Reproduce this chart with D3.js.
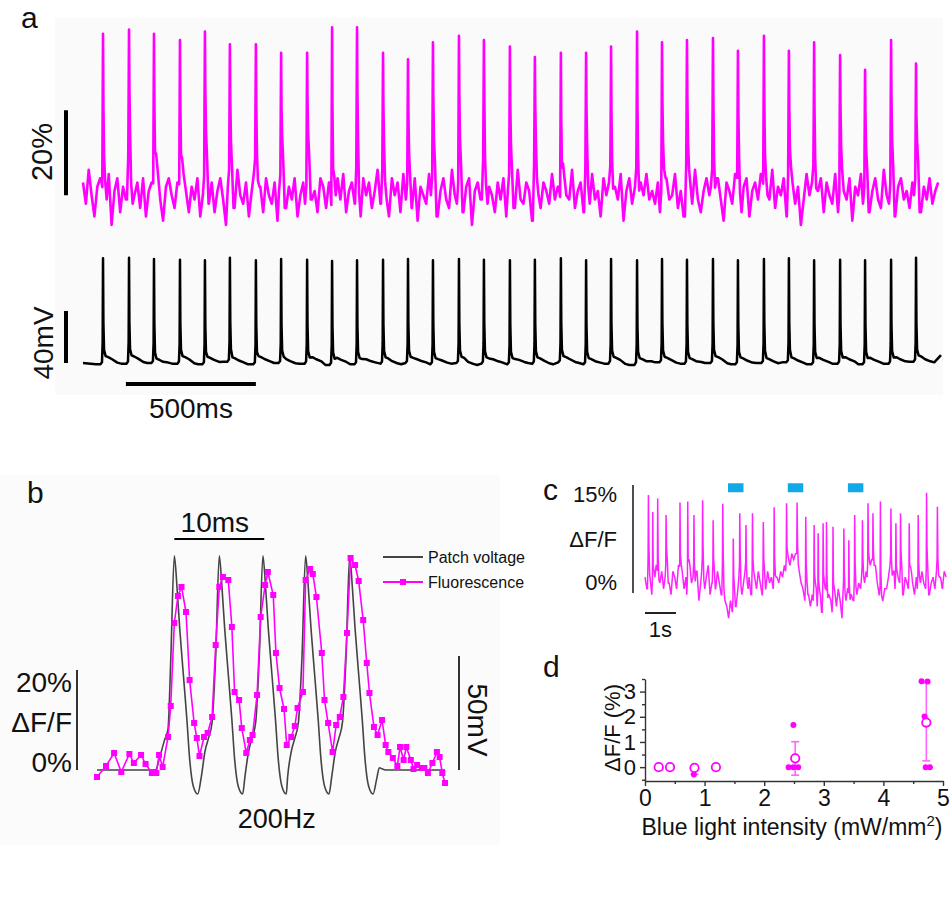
<!DOCTYPE html>
<html>
<head>
<meta charset="utf-8">
<script src="https://cdn.jsdelivr.net/npm/d3@7"></script>
<style>
  body { margin: 0; background: #fff; }
  text { font-family: "Liberation Sans", Arial, sans-serif; fill: #111; }
</style>
</head>
<body>
<div id="fig"></div>
<script>
// ---------- panel a : 10 Hz train, fluorescence vs membrane potential ----------
const aSpikeTimes = [77, 177, 273, 373, 469, 565, 665, 762, 862, 958, 1054, 1154, 1250, 1346, 1446, 1542,
  1642, 1738, 1838, 1935, 2031, 2131, 2227, 2323, 2423, 2519, 2619, 2715, 2812, 2912, 3008, 3108, 3204]; // ms
const aFluoPeaks = [37, 38, 37, 35.5, 37.5, 34.5, 34.5, 32.5, 32.5, 38.5, 38.5, 32.5, 31, 35, 36.5, 35.5,
  34, 31.5, 32.5, 32.5, 34, 37.5, 35, 35.5, 36, 33, 36.5, 33, 35, 32, 28.5, 35.5, 30]; // % dF/F
const aFluoStep = 11; // ms
const aFluoNoise = [
  2, -3, 5, -1, -6, 1, 3, -4, -2, 4, -8, 0, 3, -5, 1, -2, 4, -3, -1, 2,
  -4, 3, -6, 0, 2, -3, 5, -2, -7, 1, 3, -1, -4, 2, -3, 4, 0, -5, 1, -2,
  3, -6, -1, 4, -3, 2, -5, 0, 3, -2, -8, 1, 2, -4, 5, -1, -3, 2, -6, 0,
  4, -2, 1, -5, 3, -1, -3, 2, -7, 0, 4, -4, 1, -2, 3, -6, -1, 2, -3, 5,
  -2, 0, -5, 3, 1, -4, 2, -9, -1, 3, -2, 4, -5, 0, 2, -3, 1, -6, 3, -1,
  2, -4, 0, 5, -3, 1, -2, -6, 3, -1, 2, -5, 4, -2, 0, -4, 3, -7, 1, -1,
  -3, 4, -1, 2, -6, 0, 3, -2, -4, 5, -1, -3, 2, -5, 1, 3, -8, 0, 2, -2,
  4, -3, 1, -1, -5, 2, -2, 3, -6, 0, 1, -4, 5, -2, -3, 2, 0, -7, 3, -1,
  -4, 2, 0, -3, 4, -2, 1, -6, 3, -1, -2, 5, -4, 0, 2, -5, 1, -3, 4, -2,
  0, -6, 3, -1, 2, -4, 1, -2, 4, -7, 0, 3, -3, 1, -5, 2, -1, 4, -2, 0,
  -3, 2, -5, 1, 3, -2, -1, 4, -4, 0, -6, 2, 1, -3, 5, -2, -5, 0, 3, -1,
  1, -4, 3, -2, -7, 2, 0, -3, 4, -1, -5, 1, 3, -6, 0, 2, -2, 4, -3, -1,
  -2, 5, -4, 1, -1, 3, -6, 0, 2, -3, 1, -8, -2, 4, -1, 2, -4, 0, 3, -5,
  2, -1, -3, 4, -5, 1, 0, -2, 3, -7, 1, -1, 4, -3, 2, -5, 0, 3, -2, -4,
  5, -1, -3, 2, -6, 1, 3, -2, 0, -4, 2, -1, 4, -5, 1, -2, 3, -3, 0, 2];
const aFluoShape = [[-8, 0], [-3, 0.12], [-1.5, 0.55], [0, 1], [1.5, 0.6], [4, 0.3], [8, 0.12], [14, 0]];
const aVmStep = 50; // ms
const aVmNoise = [
  0, -1, 0.5, -0.5, 1, 0, -1.5, -0.5, 0.5, -1,
  0, 1, -0.5, -1, 0.5, 0, -1, -0.5, 0.5, -1.5,
  0, -1, 0.5, -0.5, -1, 0, 0.5, -1, -0.5, 0,
  -1.5, -0.5, 0.5, -1, 0, -0.5, -1, 0.5, 0, -1,
  -0.5, 0, -1.5, -1, 0.5, 0, -0.5, -1, 0, 0.5,
  -1, -0.5, 0, -1, 0.5, -0.5, -1, 0, -0.5, 0.5,
  -1, 0, -0.5, 0.5, 1, 0.5, 6];
const aVmRest = -65, aVmSpike = 80; // mV
const aVmShape = [[-10, 0], [-4, 0.02], [-1.5, 0.19], [0, 1], [1.5, 0.38], [4, 0.12], [10, 0.06], [20, 0.05], [35, 0.03], [55, 0.01], [70, 0]];

// ---------- panel b : 200 Hz burst ----------
const bFluoT = [0, 1.0, 1.9, 2.7, 3.6, 4.1, 4.9, 5.4, 6.1, 6.6, 6.9, 7.3, 7.9, 8.2, 8.6, 9.0, 9.4, 9.9, 10.3, 10.8,
  11.1, 11.4, 11.9, 12.3, 12.8, 13.2, 13.6, 14.0, 14.6, 15.0, 15.3, 15.8, 16.1, 16.6, 17.0, 17.3, 17.8, 18.2, 18.7, 19.0,
  19.6, 19.9, 20.3, 20.8, 21.1, 21.6, 22.0, 22.3, 22.9, 23.2, 23.7, 24.0, 24.4, 25.0, 25.3, 25.7, 26.2, 26.6, 27.0, 27.4,
  27.8, 28.2, 28.7, 29.1, 29.6, 30.0, 30.3, 30.8, 31.2, 31.7, 32.1, 32.4, 32.9, 33.4, 33.7, 34.1, 34.4, 34.9, 35.2, 35.6,
  36.1, 36.4, 36.8, 37.3, 37.8, 38.1, 38.4, 38.7]; // ms
const bFluoV = [-1.4, 0.8, 3.4, -0.4, 3.2, 1.4, 3.0, 1.2, -0.6, -0.6, 3.0, 0.6, 6.6, 12.8, 29.4, 34.8, 36.6, 31.6, 18.0, 9.4,
  6.4, 2.8, 6.6, 7.4, 10.6, 25.0, 36.6, 38.6, 38.0, 28.6, 15.6, 14.0, 8.4, 3.4, 6.0, 7.0, 15.0, 30.6, 37.0, 39.6,
  35.0, 23.4, 16.4, 12.2, 5.0, 6.6, 8.8, 12.4, 15.6, 38.0, 40.2, 39.2, 34.6, 23.4, 14.0, 9.4, 3.6, 9.0, 10.6, 14.6,
  27.4, 42.4, 41.0, 37.8, 30.0, 21.4, 15.4, 8.6, 7.0, 10.0, 5.0, 3.6, 2.4, 0.8, 4.6, 2.0, 4.6, 2.0, 0.2, 1.0,
  0.4, 0.4, -0.6, 1.4, 3.6, 2.6, -0.6, -2.6]; // % dF/F
const bPatchT = [0, 6.5, 7.0, 7.5, 7.9, 8.2, 8.6, 8.9, 9.2, 9.6, 10.0, 10.3, 10.7, 11.2,
  11.6, 12.0, 12.4, 12.8, 13.2, 13.6, 13.9, 14.2, 14.6, 15.0, 15.3, 15.7, 16.2,
  16.45, 16.85, 17.25, 17.65, 18.05, 18.45, 18.75, 19.05, 19.45, 19.85, 20.15, 20.55, 21.05,
  21.2, 21.6, 22.0, 22.4, 22.8, 23.2, 23.5, 23.8, 24.2, 24.6, 24.9, 25.3, 25.8,
  26.1, 26.5, 26.9, 27.3, 27.7, 28.1, 28.4, 28.7, 29.1, 29.5, 29.8, 30.2, 30.7,
  31.1, 31.4, 31.7, 32.1, 38.7]; // ms
const bPatchV = [0, 0, 6, 13, 18, 48, 94, 80, 62, 42, 22, 5, -7, -10.5,
  -3, 8, 14, 21, 50, 94, 80, 62, 42, 22, 5, -7, -10.5,
  -3, 8, 14, 21, 50, 94, 80, 62, 42, 22, 5, -7, -10.5,
  -3, 8, 14, 21, 50, 94, 80, 62, 42, 22, 5, -7, -10.5,
  -3, 8, 14, 21, 50, 94, 80, 62, 42, 22, 5, -7, -10.5,
  -4, 1, 0.5, 0, 0]; // mV above rest

// ---------- panel c : spontaneous firing with blue light ----------
const cSpikeTimes = [0.11, 0.25, 0.41, 0.68, 1.13, 1.38, 1.58, 1.86, 2.20, 2.51, 2.85, 3.06, 3.26, 3.47, 3.82, 4.17,
  4.57, 4.91, 5.19, 5.46, 5.59, 5.75, 5.86, 6.07, 6.42, 6.58, 6.77, 7.02, 7.20, 7.36, 7.60, 7.94,
  8.10, 8.25, 8.53, 8.82, 9.09, 9.44]; // s
const cSpikePeaks = [15.0, 12.1, 14.4, 11.6, 13.7, 13.9, 11.6, 14.1, 10.7, 13.5, 7.6, 11.9, 9.9, 11.9, 10.4, 12.9,
  13.6, 13.7, 11.3, 9.9, 8.5, 10.2, 10.4, 9.6, 9.3, 7.3, 11.6, 10.7, 13.6, 11.9, 13.9, 12.7,
  10.2, 11.9, 10.2, 11.6, 15.4, 13.0]; // % dF/F
const cStep = 0.06; // s
const cNoise = [
  1, -1, 2, 0, -2, 1, 3, -1, 0, 2,
  -1, 1, 3, 0, -2, 2, 1, -1, 3, 0,
  2, -1, 1, -2, 3, 0, 1, -1, 2, -3,
  0, 2, -1, 1, 3, -2, 0, 1, -1, 2,
  0, -2, 1, -3, -4, -6, -3, -5, -2, -4,
  -1, 1, -2, 0, 2, -1, 1, -2, 0, 1,
  -1, 2, 0, -2, 1, -1, 2, 0, 1, -1,
  0, 1, 0, 2, 1, 3, 2, 4, 3, 5,
  4, 5, 3, 2, 0, -1, -3, -1, -2, -4,
  -2, -3, -1, -4, -2, -5, -3, -1, -4, -2,
  -3, -5, -2, -4, -1, -3, -6, -2, -3, -1,
  -4, -2, -3, -1, -2, 0, -1, 1, 0, 2,
  1, 3, 4, 2, 3, 0, -2, -4, -3, -1,
  -1, 1, 3, 0, 2, -1, 1, 0, 2, -2,
  1, 0, -1, 2, 0, -2, 1, -1, 0, 2,
  0, -1, 1, -2, 0, 1, -1, 2, 0, 1,
  -1, 2, 1];
const cShape = [[-0.03, 0], [-0.01, 0.2], [0, 1], [0.015, 0.35], [0.04, 0.1], [0.07, 0]];
const cLightOn = [2.68, 4.61, 6.55]; // s
const cLightDur = 0.5;

// ---------- panel d : response vs blue light intensity ----------
const dMeanX = [0.23, 0.42, 0.83, 1.19, 2.52, 4.72];
const dMeanY = [0, 0, -0.03, 0, 0.35, 1.77];
const dErrLo = [0, 0, -0.28, 0, -0.32, 0.25];
const dErrHi = [0, 0, 0, 0, 1.01, 3.35];
const dDotX = [0.82, 2.41, 2.49, 2.57, 2.49, 4.64, 4.74, 4.69, 4.71, 4.78];
const dDotY = [-0.29, 0, 0, 0, 1.67, 3.41, 3.4, 2.01, 0, 0];
const dXTicks = [0, 1, 2, 3, 4, 5];
const dYTicks = [0, 1, 2, 3];

const MAGENTA = "#ff00ff";
const FONT = "Liberation Sans, Arial, sans-serif";

// baseline samples + spike waveforms placed at each spike time
// (the waveform blends from the local baseline to the read peak value)
function buildTrace(noise, step, spikeTimes, amps, shape, relative) {
  const lo = shape[0][0], hi = shape[shape.length - 1][0];
  const pts = [];
  noise.forEach((v, i) => {
    const t = i * step;
    if (!spikeTimes.some(s => t >= s + lo && t <= s + hi)) pts.push([t, v]);
  });
  spikeTimes.forEach((s, k) => {
    shape.forEach(([dt, f]) => {
      const t = s + dt;
      const j = Math.min(noise.length - 1, Math.max(0, Math.round(t / step)));
      const v = relative ? noise[j] + amps[k] * f : noise[j] * (1 - f) + amps[k] * f;
      pts.push([t, v]);
    });
  });
  return pts.sort((p, q) => p[0] - q[0]);
}

const svg = d3.select("#fig").append("svg")
  .attr("width", 950)
  .attr("height", 909)
  .style("background", "#fff");

function label(x, y, txt, size, anchor) {
  return svg.append("text")
    .attr("x", x).attr("y", y)
    .attr("font-size", size)
    .attr("text-anchor", anchor || "start")
    .text(txt);
}
function bar(x1, y1, x2, y2, w, color) {
  svg.append("line")
    .attr("x1", x1).attr("y1", y1).attr("x2", x2).attr("y2", y2)
    .attr("stroke", color || "#000").attr("stroke-width", w);
}

const panel_a = () => {
  svg.append("rect").attr("x", 55).attr("y", 18).attr("width", 888).attr("height", 377).attr("fill", "#fafafa");

  const x = d3.scaleLinear().domain([0, 3300]).range([83, 941]);
  const yF = d3.scaleLinear().domain([0, 20]).range([191, 106]);
  const yV = d3.scaleLinear().domain([-65, -25]).range([363, 311]);

  const fluo = buildTrace(aFluoNoise, aFluoStep, aSpikeTimes, aFluoPeaks, aFluoShape, false);
  const vm = buildTrace(aVmNoise, aVmStep, aSpikeTimes, aSpikeTimes.map(() => aVmSpike), aVmShape, true);

  svg.append("path")
    .datum(fluo)
    .attr("fill", "none")
    .attr("stroke", MAGENTA)
    .attr("stroke-width", 2.6)
    .attr("stroke-linejoin", "round")
    .attr("d", d3.line().x(d => x(d[0])).y(d => yF(d[1])));

  svg.append("path")
    .datum(vm)
    .attr("fill", "none")
    .attr("stroke", "#000")
    .attr("stroke-width", 2.5)
    .attr("stroke-linejoin", "round")
    .attr("d", d3.line().x(d => x(d[0])).y(d => yV(aVmRest + d[1])));

  // scale bars
  bar(66, yF(-1), 66, yF(19), 4);
  bar(66, yV(-65), 66, yV(-25), 4);
  bar(x(165), 384, x(665), 384, 4);

  label(21, 28, "a", 30);
  svg.append("text").attr("font-size", 29).attr("text-anchor", "middle")
    .attr("transform", "translate(52,152) rotate(-90)").text("20%");
  svg.append("text").attr("font-size", 28).attr("text-anchor", "middle")
    .attr("transform", "translate(53,343) rotate(-90)").text("40mV");
  label(x(415), 418, "500ms", 28, "middle");
}

const panel_b = () => {
  svg.append("rect").attr("x", 0).attr("y", 475).attr("width", 500).attr("height", 370).attr("fill", "#fbfbfb");

  const x = d3.scaleLinear().domain([0, 38.7]).range([97, 445]);
  const yF = d3.scaleLinear().domain([0, 20]).range([770, 670]);
  const yV = d3.scaleLinear().domain([0, 50]).range([770, 656]);

  const patch = bPatchT.map((t, i) => [t, bPatchV[i]]);
  const fluo = bFluoT.map((t, i) => [t, bFluoV[i]]);

  svg.append("path")
    .datum(patch)
    .attr("fill", "none")
    .attr("stroke", "#444")
    .attr("stroke-width", 1.6)
    .attr("d", d3.line().curve(d3.curveMonotoneX).x(d => x(d[0])).y(d => yV(d[1])));

  svg.append("path")
    .datum(fluo)
    .attr("fill", "none")
    .attr("stroke", MAGENTA)
    .attr("stroke-width", 1.6)
    .attr("d", d3.line().x(d => x(d[0])).y(d => yF(d[1])));

  svg.selectAll(".sq")
    .data(fluo)
    .enter().append("rect")
    .attr("class", "sq")
    .attr("x", d => x(d[0]) - 3)
    .attr("y", d => yF(d[1]) - 3)
    .attr("width", 6).attr("height", 6)
    .attr("fill", MAGENTA);

  // scale bars
  bar(x(8.6), 539, x(18.6), 539, 2);
  label(x(13.1), 532, "10ms", 28, "middle");
  bar(77, yF(0), 77, yF(20), 1.6);
  label(72, 692, "20%", 28, "end");
  label(72, 732, "ΔF/F", 28, "end");
  label(72, 772, "0%", 28, "end");
  bar(459, yV(0), 459, yV(50), 1.6);
  svg.append("text").attr("font-size", 28).attr("text-anchor", "middle")
    .attr("transform", "translate(468,720) rotate(90)").text("50mV");
  label(x(20), 828, "200Hz", 27, "middle");
  label(27, 503, "b", 30);

  // legend
  bar(383, 557, 423, 557, 1.8, "#444");
  bar(383, 582, 423, 582, 1.8, MAGENTA);
  svg.append("rect").attr("x", 400).attr("y", 579).attr("width", 6).attr("height", 6).attr("fill", MAGENTA);
  label(428, 563, "Patch voltage", 16);
  label(428, 588, "Fluorescence", 16);
}

const panel_c = () => {
  const x = d3.scaleLinear().domain([0, 9.75]).range([645, 947]);
  const y = d3.scaleLinear().domain([0, 15]).range([583, 495]);

  const trace = buildTrace(cNoise, cStep, cSpikeTimes, cSpikePeaks, cShape, false);

  svg.append("path")
    .datum(trace)
    .attr("fill", "none")
    .attr("stroke", "#ff22ff")
    .attr("stroke-width", 1.5)
    .attr("d", d3.line().x(d => x(d[0])).y(d => y(d[1])));

  svg.selectAll(".light")
    .data(cLightOn)
    .enter().append("rect")
    .attr("class", "light")
    .attr("x", d => x(d))
    .attr("width", d => x(d + cLightDur) - x(d))
    .attr("y", y(17))
    .attr("height", 9)
    .attr("fill", "#12a9e6");

  bar(633, y(-1.7), 633, y(16.7), 1.6, "#222");
  label(617, 502, "15%", 22, "end");
  label(617, 547, "ΔF/F", 22, "end");
  label(617, 590, "0%", 22, "end");
  bar(x(0), 613, x(1), 613, 2, "#222");
  label(x(0.5), 637, "1s", 22, "middle");
  label(543, 500, "c", 30);
}

const panel_d = () => {
  const x = d3.scaleLinear().domain([0, 5]).range([645, 943]);
  const y = d3.scaleLinear().domain([-0.55, 3.5]).range([781, 679]);

  const xAxis = svg.append("g")
    .attr("transform", "translate(0,781)")
    .call(d3.axisBottom(x).tickValues(dXTicks).tickFormat(d3.format("d")).tickSize(5).tickSizeOuter(0).tickPadding(4));
  svg.append("g")
    .attr("transform", "translate(0,781)")
    .call(d3.axisBottom(x).tickValues([0.5, 1.5, 2.5, 3.5, 4.5]).tickFormat("").tickSize(3).tickSizeOuter(0))
    .select(".domain").remove();

  const yAxis = svg.append("g")
    .attr("transform", "translate(645,0)")
    .call(d3.axisLeft(y).tickValues(dYTicks).tickFormat(d3.format("d")).tickSize(5).tickSizeOuter(0).tickPadding(4));
  svg.append("g")
    .attr("transform", "translate(645,0)")
    .call(d3.axisLeft(y).tickValues([-0.5, 0.5, 1.5, 2.5, 3.5]).tickFormat("").tickSize(3).tickSizeOuter(0))
    .select(".domain").remove();

  svg.selectAll(".domain, .tick line").attr("stroke", "#333").attr("stroke-width", 1.4);
  xAxis.selectAll("text").attr("font-size", 23).attr("font-family", FONT).attr("fill", "#111");
  yAxis.selectAll("text").attr("font-size", 22).attr("font-family", FONT).attr("fill", "#111");

  // error bars
  const err = dMeanX.map((m, i) => ({ x: m, lo: dErrLo[i], hi: dErrHi[i] })).filter(d => d.hi > d.lo);
  const eb = svg.append("g").attr("stroke", "#ff66ff").attr("stroke-width", 1.6);
  err.forEach(d => {
    eb.append("line").attr("x1", x(d.x)).attr("x2", x(d.x)).attr("y1", y(d.lo)).attr("y2", y(d.hi));
    [d.lo, d.hi].forEach(v => {
      eb.append("line").attr("x1", x(d.x) - 4).attr("x2", x(d.x) + 4).attr("y1", y(v)).attr("y2", y(v));
    });
  });

  svg.append("g")
    .selectAll("circle")
    .data(dDotX.map((v, i) => [v, dDotY[i]]))
    .enter().append("circle")
    .attr("cx", d => x(d[0]))
    .attr("cy", d => y(d[1]))
    .attr("r", 3)
    .attr("fill", MAGENTA);

  svg.append("g")
    .selectAll("circle")
    .data(dMeanX.map((v, i) => [v, dMeanY[i]]))
    .enter().append("circle")
    .attr("cx", d => x(d[0]))
    .attr("cy", d => y(d[1]))
    .attr("r", 4.2)
    .attr("fill", "#fff")
    .attr("stroke", MAGENTA)
    .attr("stroke-width", 1.8);

  svg.append("text").attr("font-size", 22).attr("text-anchor", "middle")
    .attr("transform", "translate(620,728) rotate(-90)").text("ΔF/F (%)");

  const xl = svg.append("text").attr("x", 792).attr("y", 835).attr("font-size", 23).attr("text-anchor", "middle");
  xl.append("tspan").text("Blue light intensity (mW/mm");
  xl.append("tspan").attr("dy", -9).attr("font-size", 15).text("2");
  xl.append("tspan").attr("dy", 9).text(")");

  label(543, 677, "d", 30);
}

panel_a();
panel_b();
panel_c();
panel_d();
</script>
</body>
</html>
